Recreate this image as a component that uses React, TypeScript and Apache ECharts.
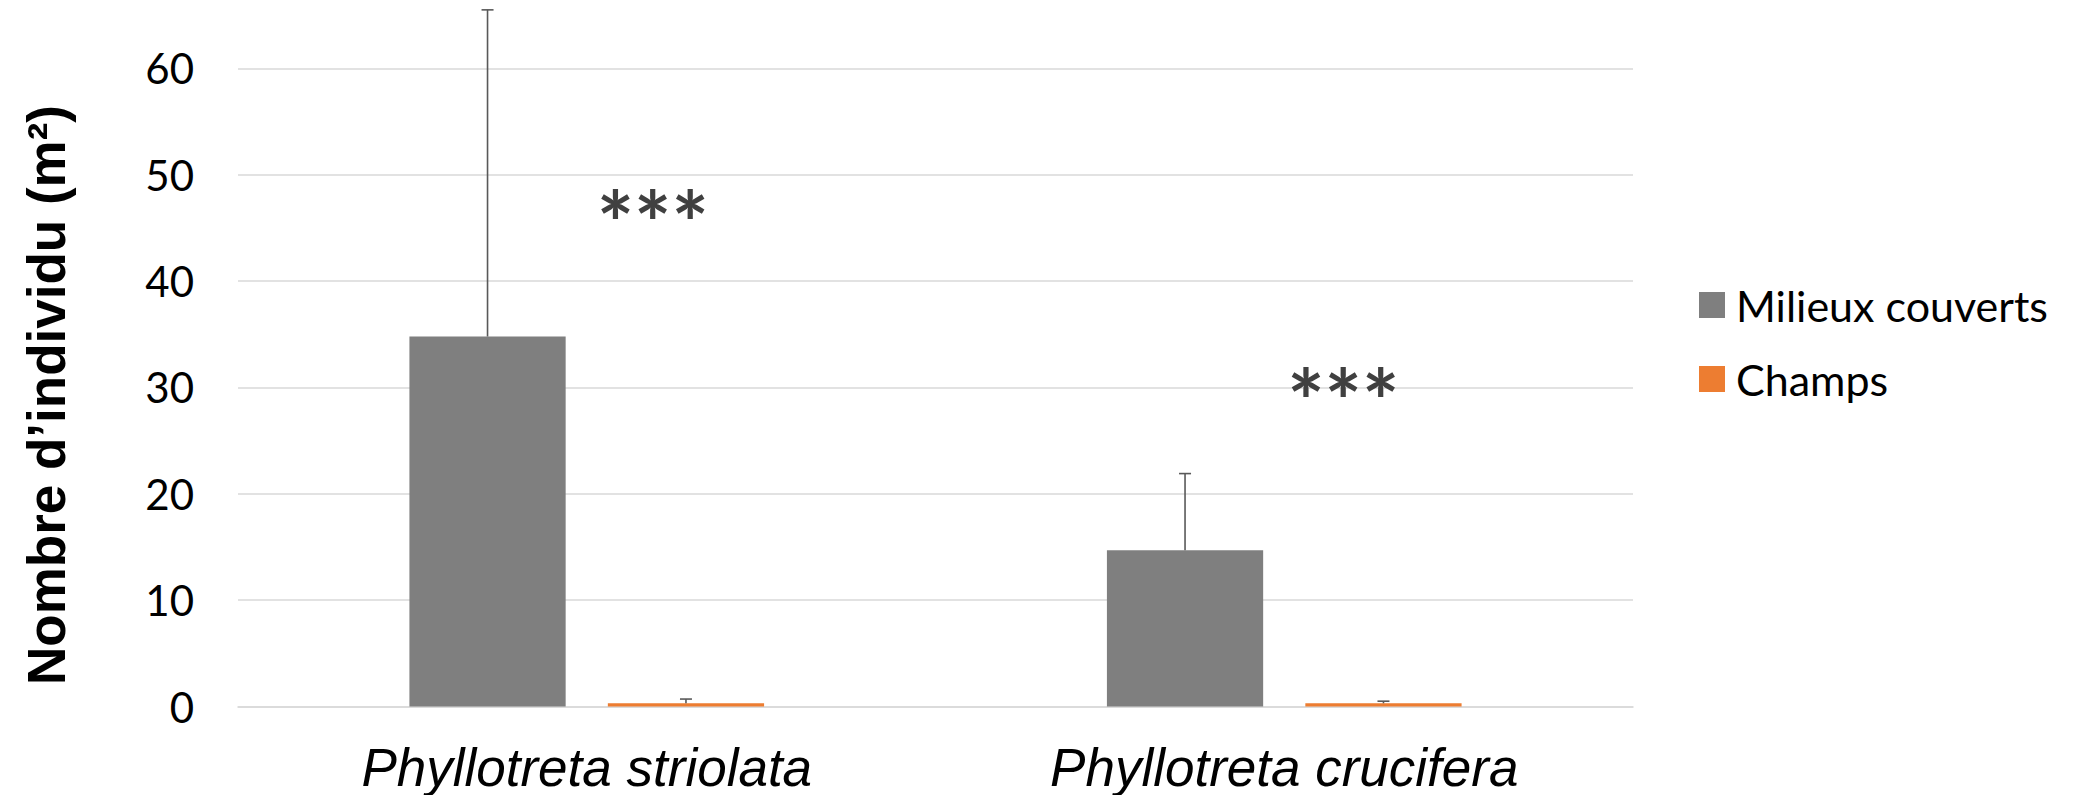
import React, { useEffect, useRef } from "react";
import * as echarts from "echarts";

const categories = ["Phyllotreta striolata", "Phyllotreta crucifera"];
const seriesNames = ["Milieux couverts", "Champs"];
const couvertsValues = [34.8, 14.7];
const couvertsUpper = [65.5, 21.9];
const champsValues = [0.3, 0.3];
const champsUpper = [0.7, 0.5];
const sigLabels = ["***", "***"];
const sigValues = [45.6, 28.8];
const yTicks = [0, 10, 20, 30, 40, 50, 60, 70];

const COLORS = ["#7f7f7f", "#ed7d31"];
const BAR_WIDTH = "22.4%";
const BAR_GAP = "27%";
const SIG_DX = [66, 59];

export default function App() {
  const ref = useRef<HTMLDivElement>(null);
  useEffect(() => {
    if (!ref.current) return;
    const chart = echarts.init(ref.current, null, { renderer: "svg" });
    const band = 0.224;
    const gap = 0.27;
    const errSeries = (vals: number[], upper: number[], sIdx: number) => ({
      type: "custom",
      name: seriesNames[sIdx] + " err",
      silent: true,
      z: 5,
      data: vals.map((v, i) => [i, v, upper[i]]),
      encode: { x: 0, y: [1, 2] },
      renderItem: (params: any, api: any) => {
        const i = api.value(0);
        const bw = api.size([1, 0])[0];
        const off = (bw * band * (1 + gap)) / 2 * (sIdx === 0 ? -1 : 1);
        const lo = api.coord([i, api.value(1)]);
        const hi = api.coord([i, api.value(2)]);
        const x = lo[0] + off;
        const style = { stroke: "#595959", lineWidth: 1.6 };
        return {
          type: "group",
          children: [
            { type: "line", shape: { x1: x, y1: lo[1], x2: x, y2: hi[1] }, style },
            { type: "line", shape: { x1: x - 6, y1: hi[1], x2: x + 6, y2: hi[1] }, style },
          ],
        };
      },
    });
    chart.setOption({
      animation: false,
      backgroundColor: "#ffffff",
      grid: { left: 238, right: 444, top: -38, bottom: 88.5, outerBoundsMode: "none", containLabel: false },
      legend: {
        orient: "vertical",
        left: 1694,
        top: 277,
        itemWidth: 26,
        itemHeight: 26,
        itemGap: 28,
        icon: "rect",
        data: seriesNames,
        textStyle: {
          fontFamily: "Lato",
          fontSize: 43,
          color: "#000",
          lineHeight: 46,
          padding: [0, 0, 0, 6],
        },
      },
      xAxis: {
        type: "category",
        data: categories,
        axisLine: { show: true, lineStyle: { color: "#d9d9d9", width: 1.6 } },
        axisTick: { show: false },
        axisLabel: {
          fontFamily: "Liberation Sans",
          fontStyle: "italic",
          fontSize: 53,
          color: "#000",
          margin: 34,
        },
      },
      yAxis: {
        type: "value",
        min: yTicks[0],
        max: yTicks[yTicks.length - 1],
        interval: 10,
        axisLine: { show: false },
        axisTick: { show: false },
        splitLine: { lineStyle: { color: "#d9d9d9", width: 1.6 } },
        axisLabel: {
          fontFamily: "Lato",
          fontSize: 42,
          color: "#000",
          margin: 44,
          showMaxLabel: false,
        },
      },
      series: [
        {
          type: "bar",
          name: seriesNames[0],
          data: couvertsValues,
          barWidth: BAR_WIDTH,
          barGap: BAR_GAP,
          itemStyle: { color: COLORS[0] },
        },
        {
          type: "bar",
          name: seriesNames[1],
          data: champsValues,
          barWidth: BAR_WIDTH,
          barGap: BAR_GAP,
          itemStyle: { color: COLORS[1] },
        },
        errSeries(couvertsValues, couvertsUpper, 0),
        errSeries(champsValues, champsUpper, 1),
        {
          type: "custom",
          name: "sig",
          silent: true,
          z: 6,
          data: sigValues.map((v, i) => [i, v]),
          encode: { x: 0, y: 1 },
          renderItem: (params: any, api: any) => {
            const i = api.value(0);
            const p = api.coord([i, api.value(1)]);
            return {
              type: "text",
              x: p[0] + SIG_DX[params.dataIndex],
              y: p[1],
              style: {
                text: sigLabels[params.dataIndex],
                fontFamily: "Lato",
                fontWeight: "bold",
                fontSize: 88,
                fill: "#404040",
                align: "center",
                verticalAlign: "middle",
              },
            };
          },
        },
      ],
      graphic: [
        {
          type: "text",
          x: 46,
          y: 395,
          rotation: Math.PI / 2,
          style: {
            text: "Nombre d’individu (m²)",
            fontFamily: "Liberation Sans",
            fontWeight: "bold",
            fontSize: 53,
            fill: "#000",
            align: "center",
            verticalAlign: "middle",
          },
        },
      ],
    });
    return () => chart.dispose();
  }, []);
  return (
    <div
      ref={ref}
      style={{ position: "absolute", left: 0, top: 0, width: 2077, height: 795 }}
    />
  );
}
